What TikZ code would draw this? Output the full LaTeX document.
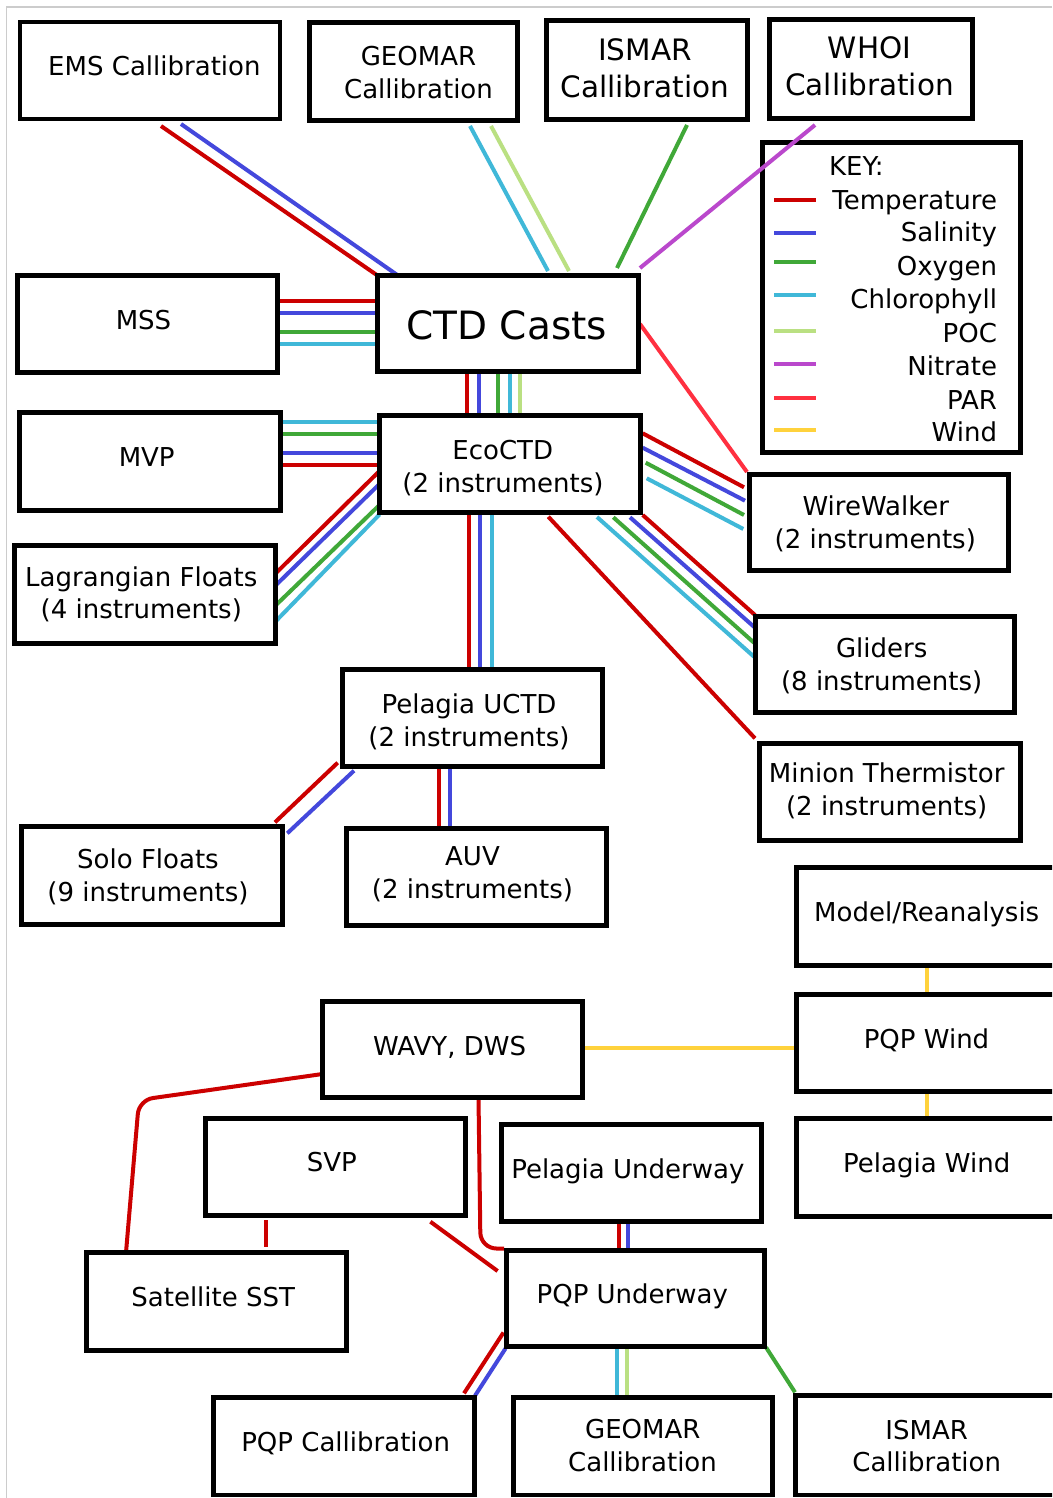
\documentclass[tikz,border=0pt]{standalone}
\usepackage{fontspec}
\setmainfont{DejaVu Sans}
\usetikzlibrary{calc,backgrounds}
\definecolor{cTc}{RGB}{204,0,0}
\definecolor{cSc}{RGB}{68,72,220}
\definecolor{cOc}{RGB}{64,168,56}
\definecolor{cCc}{RGB}{64,184,216}
\definecolor{cPc}{RGB}{186,224,130}
\definecolor{cNc}{RGB}{186,72,204}
\definecolor{cRc}{RGB}{255,48,64}
\definecolor{cWc}{RGB}{255,210,60}
\newcommand\mkbox[5]{\node[boxn, minimum width={#4-#2}, minimum height={#5-#3}] (#1) at ({(#2+#4)/2},{(#3+#5)/2}) {};}
\tikzset{
  boxn/.style={draw=black, line width=4.8pt, fill=white, rectangle, inner sep=0pt, outer sep=0pt},
  txt/.style={anchor=base, inner sep=0pt, outer sep=0pt, font=\fontsize{26}{31}\selectfont},
  txtL/.style={txt, font=\fontsize{29.5}{35}\selectfont},
  ln/.style={line width=4pt, line cap=butt},
  cT/.style={ln, draw=cTc}, cS/.style={ln, draw=cSc}, cO/.style={ln, draw=cOc},
  cC/.style={ln, draw=cCc}, cP/.style={ln, draw=cPc}, cN/.style={ln, draw=cNc},
  cR/.style={ln, draw=cRc}, cW/.style={ln, draw=cWc}
}
\begin{document}
\begin{tikzpicture}[x=1pt,y=-1pt]
\useasboundingbox (0,0) rectangle (1052,1498);
\clip (0,0) rectangle (1052,1498);

% boxes
\mkbox{ems}{20}{22}{280}{119}
\mkbox{geoT}{309.5}{22.5}{517.5}{120.5}
\mkbox{ismT}{546.5}{20.5}{747.5}{119.5}
\mkbox{whoi}{769.5}{19.5}{972.5}{118.5}
\mkbox{key}{762.5}{142.5}{1020.5}{452.5}
\mkbox{ctd}{377.5}{275.5}{638.5}{371.5}
\mkbox{mss}{17.5}{275.5}{277.5}{372.5}
\mkbox{mvp}{19.5}{412.5}{280.5}{510.5}
\mkbox{eco}{379.5}{415.5}{640.5}{512.5}
\mkbox{lag}{14.5}{545.5}{275.5}{643.5}
\mkbox{ww}{749.5}{474.5}{1008.5}{570.5}
\mkbox{gli}{755.5}{616.5}{1014.5}{712.5}
\mkbox{min}{759.5}{743.5}{1020.5}{840.5}
\mkbox{pu}{342.5}{669.5}{602.5}{766.5}
\mkbox{auv}{346.5}{828.5}{606.5}{925.5}
\mkbox{solo}{21.5}{826.5}{282.5}{924.5}
\mkbox{model}{796.5}{867.5}{1059}{965.5}
\mkbox{pqpw}{796.5}{994.5}{1059}{1091.5}
\mkbox{pelw}{796.5}{1118.5}{1059}{1216.5}
\mkbox{wavy}{322.5}{1001.5}{582.5}{1097.5}
\mkbox{svp}{205.5}{1118.5}{465.5}{1215.5}
\mkbox{pelu}{501.5}{1124.5}{761.5}{1221.5}
\mkbox{sat}{86.5}{1252.5}{346.5}{1350.5}
\mkbox{pqpu}{506.5}{1250.5}{764.5}{1346.5}
\mkbox{pqpc}{213.5}{1397.5}{474.5}{1495}
\mkbox{geoB}{513.5}{1397.5}{772.5}{1495}
\mkbox{ismB}{795.5}{1395.5}{1059}{1495}

\begin{pgfonlayer}{background}
\fill[white] (0,0) rectangle (1052,1498);
\draw[black!20, line width=1.5pt] (6.5,1498) -- (6.5,7) -- (1052,7);
% EMS, GEOMAR, ISMAR -> CTD
\draw[cT] ($(ems.south west)+(141,7)$) -- ($(ctd.north west)+(0,0)$);
\draw[cS] ($(ems.south west)+(161,5)$) -- ($(ctd.north west)+(20.5,0)$);
\draw[cC] ($(geoT.south west)+(160.5,5.5)$) -- ($(ctd.north west)+(170.5,-4.5)$);
\draw[cP] ($(geoT.south west)+(181.5,5.5)$) -- ($(ctd.north west)+(191.5,-4.5)$);
\draw[cO] ($(ismT.south west)+(140.5,5.5)$) -- ($(ctd.north west)+(239.5,-7.5)$);
% CTD -> WireWalker (PAR)
\draw[cR] ($(ctd.east)+(1.5,0.5)$) -- ($(ww.north west)+(-2.5,-2.5)$);
% MSS -> CTD
\draw[cT] ($(mss.east)+(0,-23)$) -- ($(ctd.west)+(0,-22.5)$);
\draw[cS] ($(mss.east)+(0,-10.7)$) -- ($(ctd.west)+(0,-10.2)$);
\draw[cO] ($(mss.east)+(0,8.3)$) -- ($(ctd.west)+(0,8.8)$);
\draw[cC] ($(mss.east)+(0,20.3)$) -- ($(ctd.west)+(0,20.8)$);
% CTD -> EcoCTD
\draw[cT] ($(ctd.south)+(-41,0)$) -- ($(eco.north)+(-43,0)$);
\draw[cS] ($(ctd.south)+(-29,0)$) -- ($(eco.north)+(-31,0)$);
\draw[cO] ($(ctd.south)+(-10,0)$) -- ($(eco.north)+(-12,0)$);
\draw[cC] ($(ctd.south)+(2,0)$) -- ($(eco.north)+(0,0)$);
\draw[cP] ($(ctd.south)+(12,0)$) -- ($(eco.north)+(10,0)$);
% MVP -> EcoCTD
\draw[cC] ($(mvp.east)+(0,-39.2)$) -- ($(eco.west)+(0,-41.7)$);
\draw[cO] ($(mvp.east)+(0,-27.2)$) -- ($(eco.west)+(0,-29.7)$);
\draw[cS] ($(mvp.east)+(0,-8.2)$) -- ($(eco.west)+(0,-10.7)$);
\draw[cT] ($(mvp.east)+(0,3.5)$) -- ($(eco.west)+(0,1)$);
% EcoCTD -> Lagrangian
\draw[cT] ($(eco.west)+(0,7)$) -- ($(lag.east)+(0,-21)$);
\draw[cS] ($(eco.west)+(0,20)$) -- ($(lag.east)+(0,-9)$);
\draw[cO] ($(eco.west)+(0,41)$) -- ($(lag.east)+(0,11)$);
\draw[cC] ($(eco.west)+(0,50.5)$) -- ($(lag.east)+(0,27)$);
% EcoCTD -> WireWalker
\draw[cT] ($(eco.east)+(2.2,-30.7)$) -- ($(ww.west)+(-5.5,-35.2)$);
\draw[cS] ($(eco.east)+(2.2,-16.3)$) -- ($(ww.west)+(-4.5,-21.8)$);
\draw[cO] ($(eco.east)+(5.2,-1.3)$) -- ($(ww.west)+(-5.5,-7.5)$);
\draw[cC] ($(eco.east)+(6.2,14.3)$) -- ($(ww.west)+(-6.2,6.5)$);
% EcoCTD -> Gliders
\draw[cT] ($(eco.south east)+(2.2,2.5)$) -- ($(gli.north west)+(-0.5,-1.5)$);
\draw[cS] ($(eco.south east)+(-10.5,4.8)$) -- ($(gli.north west)+(0.2,11.8)$);
\draw[cO] ($(eco.south east)+(-27.2,4.8)$) -- ($(gli.north west)+(-1.5,26.2)$);
\draw[cC] ($(eco.south east)+(-43.5,4.5)$) -- ($(gli.north west)+(-1.5,40.2)$);
% EcoCTD -> Minion
\draw[cT] ($(eco.south)+(38.3,4.2)$) -- ($(min.north west)+(-4.5,-5.2)$);
% EcoCTD -> Pelagia UCTD
\draw[cT] ($(eco.south)+(-40.7,0)$) -- ($(pu.north)+(-3.2,0)$);
\draw[cS] ($(eco.south)+(-30,0)$) -- ($(pu.north)+(7.5,0)$);
\draw[cC] ($(eco.south)+(-17.7,0)$) -- ($(pu.north)+(19.8,0)$);
% Pelagia UCTD -> AUV
\draw[cT] ($(pu.south)+(-33.2,0)$) -- ($(auv.north)+(-37.2,0)$);
\draw[cS] ($(pu.south)+(-22.2,0)$) -- ($(auv.north)+(-26.2,0)$);
% Pelagia UCTD -> Solo
\draw[cT] ($(pu.south west)+(-4.8,-3.8)$) -- ($(solo.north east)+(-7.5,-4.2)$);
\draw[cS] ($(pu.south west)+(11.5,4.2)$) -- ($(solo.north east)+(4.8,6.8)$);
% Wind
\draw[cW] ($(model.south)+(-1,0)$) -- ($(pqpw.north)+(-1,0)$);
\draw[cW] ($(pqpw.south)+(-1,0)$) -- ($(pelw.north)+(-1,0)$);
\draw[cW] ($(wavy.east)+(0,-1.2)$) -- ($(pqpw.west)+(0,5.3)$);
% WAVY -> Satellite, PQP Underway
\coordinate (bendA) at (139,1100);
\coordinate (bendB) at (480.5,1248.5);
\draw[cT, rounded corners=14pt] ($(wavy.west)+(0,24.5)$) -- (bendA) -- ($(sat.north west)+(39.5,0)$);
\draw[cT, rounded corners=16pt] ($(wavy.south)+(26,0)$) -- (bendB) -- ($(pqpu.north west)+(-2.5,-2)$);
% SVP
\draw[cT] ($(svp.south west)+(60,4.5)$) -- ($(sat.north)+(49,-5.5)$);
\draw[cT] ($(svp.south east)+(-35.1,6.2)$) -- ($(pqpu.north west)+(-8.9,20.5)$);
% Pelagia Underway -> PQP Underway
\draw[cT] ($(pelu.south)+(-12.5,0)$) -- ($(pqpu.north)+(-16.5,0)$);
\draw[cS] ($(pelu.south)+(-3.2,0)$) -- ($(pqpu.north)+(-7.2,0)$);
% PQP Underway -> calibrations
\draw[cC] ($(pqpu.south)+(-18.8,0)$) -- ($(geoB.north)+(-26.3,0)$);
\draw[cP] ($(pqpu.south)+(-8.8,0)$) -- ($(geoB.north)+(-16.3,0)$);
\draw[cO] ($(pqpu.south east)+(1.5,0.8)$) -- ($(ismB.north west)+(-0.5,-3.2)$);
\draw[cT] ($(pqpu.south west)+(-3,-14)$) -- ($(pqpc.north east)+(-10.5,-4.2)$);
\draw[cS] ($(pqpu.south west)+(-1,2)$) -- ($(pqpc.north east)+(0.5,-1.8)$);
\end{pgfonlayer}

% WHOI -> CTD (nitrate) crosses the key corner
\draw[cN] ($(whoi.south west)+(45.5,6.5)$) -- ($(ctd.north west)+(262.5,-7.5)$);

% key
\node[txt, anchor=base west] (keyh) at (829,175.7) {KEY:};
\draw[cT] (774,200) -- (816,200);
\node[txt, anchor=base east] (k1) at (997,209) {Temperature};
\draw[cS] (774,232.7) -- (816,232.7);
\node[txt, anchor=base east] (k2) at (997,241.7) {Salinity};
\draw[cO] (774,262.3) -- (816,262.3);
\node[txt, anchor=base east] (k3) at (997,275.7) {Oxygen};
\draw[cC] (774,294.7) -- (816,294.7);
\node[txt, anchor=base east] (k4) at (997,308.3) {Chlorophyll};
\draw[cP] (774,331.3) -- (816,331.3);
\node[txt, anchor=base east] (k5) at (997,342.3) {POC};
\draw[cN] (774,363.7) -- (816,363.7);
\node[txt, anchor=base east] (k6) at (997,375) {Nitrate};
\draw[cR] (774,398.3) -- (816,398.3);
\node[txt, anchor=base east] (k7) at (997,409) {PAR};
\draw[cW] (774,430.3) -- (816,430.3);
\node[txt, anchor=base east] (k8) at (997,441.7) {Wind};

% texts
\node[txt] (t-ems) at (154.4,75.7) {EMS Callibration};
\node[txt] (t-geoT1) at (418.5,65.7) {GEOMAR};
\node[txt] (t-geoT2) at (418.5,98.3) {Callibration};
\node[txtL] (t-ismT1) at (645,60.7) {ISMAR};
\node[txtL] (t-ismT2) at (645,97.3) {Callibration};
\node[txtL] (t-whoi1) at (869.5,58.3) {WHOI};
\node[txtL] (t-whoi2) at (869.5,95.7) {Callibration};
\node[txt, font=\fontsize{39}{47}\selectfont] (t-ctd) at (506.7,339) {CTD Casts};
\node[txt] (t-mss) at (143.5,329) {MSS};
\node[txt] (t-mvp) at (146.7,466.7) {MVP};
\node[txt] (t-eco1) at (502.7,459) {EcoCTD};
\node[txt] (t-eco2) at (503,492.5) {(2 instruments)};
\node[txt] (t-lag1) at (141.3,586) {Lagrangian Floats};
\node[txt] (t-lag2) at (141.3,618.3) {(4 instruments)};
\node[txt] (t-ww1) at (875.8,515) {WireWalker};
\node[txt] (t-ww2) at (875.3,548.3) {(2 instruments)};
\node[txt] (t-gli1) at (881.7,657.3) {Gliders};
\node[txt] (t-gli2) at (881.7,690.7) {(8 instruments)};
\node[txt] (t-min1) at (886.7,782.7) {Minion Thermistor};
\node[txt] (t-min2) at (886.7,815.7) {(2 instruments)};
\node[txt] (t-pu1) at (469,713.3) {Pelagia UCTD};
\node[txt] (t-pu2) at (469,746) {(2 instruments)};
\node[txt] (t-solo1) at (148,868.3) {Solo Floats};
\node[txt] (t-solo2) at (148,901) {(9 instruments)};
\node[txt] (t-auv1) at (472.5,865) {AUV};
\node[txt] (t-auv2) at (472.5,898.3) {(2 instruments)};
\node[txt] (t-model) at (926.7,921) {Model/Reanalysis};
\node[txt] (t-wavy) at (449.6,1055) {WAVY, DWS};
\node[txt] (t-pqpw) at (926.5,1048.3) {PQP Wind};
\node[txt] (t-svp) at (331.8,1171.7) {SVP};
\node[txt] (t-pelu) at (627.8,1178.3) {Pelagia Underway};
\node[txt] (t-pelw) at (926.7,1172.3) {Pelagia Wind};
\node[txt] (t-sat) at (213.2,1306.7) {Satellite SST};
\node[txt] (t-pqpu) at (632.3,1303.3) {PQP Underway};
\node[txt] (t-pqpc) at (345.7,1451.7) {PQP Callibration};
\node[txt] (t-geoB1) at (642.8,1438.3) {GEOMAR};
\node[txt] (t-geoB2) at (642.5,1471.7) {Callibration};
\node[txt] (t-ismB1) at (926.7,1439) {ISMAR};
\node[txt] (t-ismB2) at (926.7,1471.7) {Callibration};
\end{tikzpicture}
\end{document}
